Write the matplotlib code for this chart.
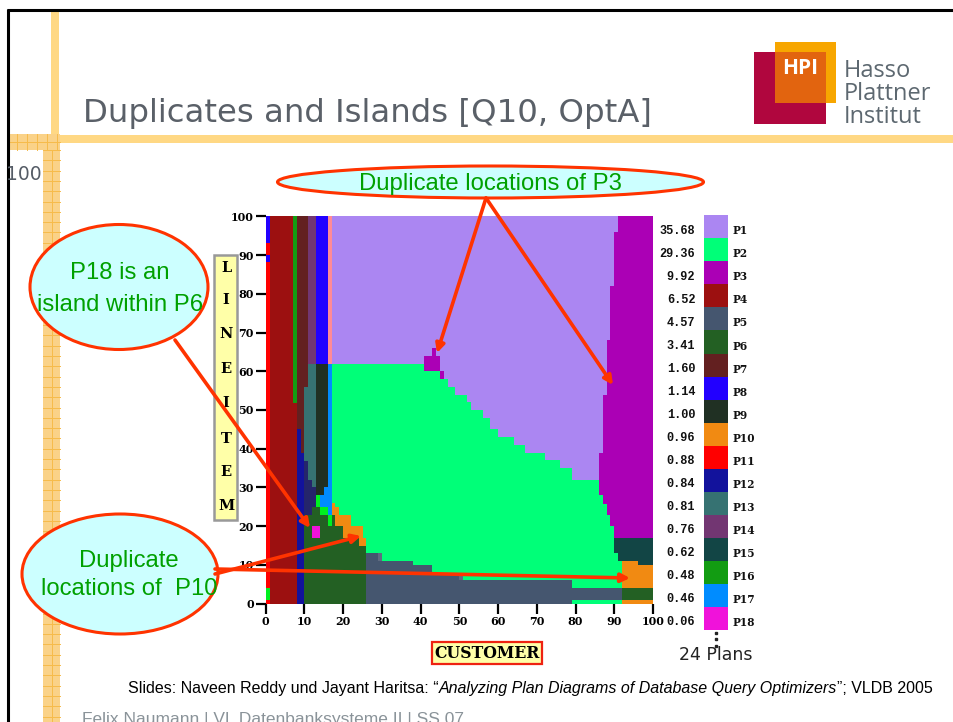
import matplotlib
matplotlib.use("Agg")
from matplotlib import pyplot as plt
from matplotlib.patches import Ellipse, Rectangle

W, H = 954, 722

# Legend data
plan_names = ["P1", "P2", "P3", "P4", "P5", "P6", "P7", "P8", "P9", "P10",
              "P11", "P12", "P13", "P14", "P15", "P16", "P17", "P18"]
plan_share = ["35.68", "29.36", "9.92", "6.52", "4.57", "3.41", "1.60", "1.14", "1.00",
              "0.96", "0.88", "0.84", "0.81", "0.76", "0.62", "0.48", "0.46", "0.06"]
plan_colors = ["#ab86f2", "#00ff78", "#ab00b5", "#9c1010", "#45566f", "#236023",
               "#632020", "#2200ff", "#203023", "#f18a12", "#ff0000", "#12129c",
               "#367272", "#723672", "#124545", "#129c12", "#008cff", "#f012da"]
# plans that are on the diagram but not in the visible legend
salmon_color = "#ff8a96"
lime_color = "#00f020"
navy_color = "#25256b"
slate_color = "#5f6b80"

# P1 / P2 border: column edges and height of P2 in each column
p2_edges = [17, 41, 45, 47, 49, 52, 53, 56, 58, 60, 64, 67, 72, 76, 79, 100]
p2_tops = [61.8, 60, 58, 56, 54, 52, 50, 48, 45, 43, 41, 39, 37, 35, 32]

# P3 on the right: row edges and left end of P3 in each row
p3_rows = [100, 96, 82, 68, 54, 39, 28, 25.8, 23, 20, 17]
p3_left = [91, 90, 89, 88, 87, 86, 87, 88, 89, 90]

# The other regions, (x0, x1, y0, y1)
p3_cells = [(41, 45, 60, 64), (43, 44, 64, 66), (45, 46, 58, 60)]
p4_cells = [(1, 7, 51.8, 100), (1, 8, 0, 51.8)]
p5_cells = [(26, 29, 0, 13), (29, 38, 0, 11), (38, 43, 0, 10), (43, 50, 0, 8),
            (50, 79, 0, 6), (79, 92, 1, 4)]
p6_cells = [(10, 12, 0, 23), (12, 14, 0, 25), (14, 16, 0, 23), (16, 17, 0, 20),
            (17, 18, 0, 23), (18, 20, 0, 20), (20, 24, 0, 17), (24, 26, 0, 15),
            (92, 100, 1, 4)]
p7_cells = [(8, 11, 55.9, 100), (8, 10, 45, 55.9), (9, 10, 39, 45)]
p8_cells = [(0, 1, 93.2, 100), (0, 1, 88.1, 90), (13, 16, 61.8, 100)]
p9_cells = [(13, 15, 28, 61.8), (15, 16, 30, 61.8)]
p10_cells = [(17, 18, 23, 26), (18, 19, 20, 25), (19, 20, 20, 23), (20, 22, 17, 23),
             (22, 24, 17, 20), (24, 25, 15, 20), (25, 26, 15, 17),
             (92, 96, 4, 11), (96, 100, 4, 10), (92, 100, 0, 1)]
p11_cells = [(0, 1, 0, 93.2), (0, 1, 90, 93.2)]
p12_cells = [(8, 10, 0, 39), (8, 9, 39, 45)]
p13_cells = [(10, 11, 36.9, 55.9), (11, 12, 32, 61.8), (12, 13, 30, 61.8)]
p14_cells = [(11, 13, 61.8, 100)]
p15_cells = [(90, 91, 13, 17), (91, 92, 11, 17), (92, 96, 11, 17), (96, 100, 10, 17)]
p16_cells = [(7, 8, 51.8, 100)]
p17_cells = [(16, 17, 23, 61.8), (15, 16, 25, 30), (14, 15, 25, 28)]
p18_cells = [(12, 14, 17, 20)]
salmon_cells = [(16, 17, 61.8, 100)]
lime_cells = [(0, 1, 1, 4), (13, 14, 25, 28), (14, 16, 23, 25), (16, 17, 20, 23)]
navy_cells = [(10, 11, 23, 36.9), (11, 12, 23, 32), (12, 13, 25, 30)]
slate_cells = [(29, 30, 11, 13), (50, 51, 6, 8)]

axis_ticks = [0, 10, 20, 30, 40, 50, 60, 70, 80, 90, 100]
side_letters = ["L", "I", "N", "E", "I", "T", "E", "M"]
side_letter_y = [268, 300, 334, 369, 403, 439, 472, 506]

fig = plt.figure(figsize=(W / 100, H / 100), dpi=100, facecolor="white")


def px_axes(x0, x1, y0, y1, **kw):
    return fig.add_axes([x0 / W, 1 - y1 / H, (x1 - x0) / W, (y1 - y0) / H], **kw)


# Plan diagram
ax = px_axes(265.7, 653, 216.3, 603.7, zorder=1)
ax.set_xlim(0, 100)
ax.set_ylim(0, 100)


def draw_cells(cells, color):
    for x0, x1, y0, y1 in cells:
        ax.bar(x0, y1 - y0, x1 - x0, bottom=y0, align="edge", color=color,
               linewidth=0, antialiased=False)


c = dict(zip(plan_names, plan_colors))
draw_cells([(17, 100, 0, 100)], c["P1"])
ax.bar(p2_edges[:-1], p2_tops, [b - a for a, b in zip(p2_edges[:-1], p2_edges[1:])],
       align="edge", color=c["P2"], linewidth=0, antialiased=False)
ax.barh(p3_rows[1:], [100 - v for v in p3_left],
        [a - b for a, b in zip(p3_rows[:-1], p3_rows[1:])],
        left=p3_left, align="edge", color=c["P3"], linewidth=0, antialiased=False)
for cells, key in [(p3_cells, "P3"), (p4_cells, "P4"), (p5_cells, "P5"), (p7_cells, "P7"),
                   (p11_cells, "P11"), (p8_cells, "P8"), (p12_cells, "P12"),
                   (p13_cells, "P13"), (p14_cells, "P14"), (p9_cells, "P9"),
                   (p15_cells, "P15"), (p16_cells, "P16"), (p17_cells, "P17")]:
    draw_cells(cells, c[key])
draw_cells(salmon_cells, salmon_color)
draw_cells(lime_cells, lime_color)
draw_cells(navy_cells, navy_color)
draw_cells(slate_cells, slate_color)
draw_cells(p6_cells, c["P6"])
draw_cells(p10_cells, c["P10"])
draw_cells(p18_cells, c["P18"])

for s in ax.spines.values():
    s.set_visible(False)
ax.set_xticks(axis_ticks)
ax.set_yticks(axis_ticks)
ax.tick_params(length=7, width=1.6, pad=1.5)
for t in ax.get_xticklabels() + ax.get_yticklabels():
    t.set_fontfamily("DejaVu Serif")
    t.set_fontweight("bold")
    t.set_fontsize(8)

# Legend column
leg = px_axes(704.3, 727.7, 215.3, 630, zorder=1)
leg.set_xlim(0, 1)
leg.set_ylim(len(plan_names), 0)
leg.axis("off")
leg.barh(range(len(plan_names)), 1, 1, align="edge", color=plan_colors, linewidth=0)
for i, (name, share) in enumerate(zip(plan_names, plan_share)):
    leg.annotate(share, (0, i + 0.5), xytext=(-9, -4), textcoords="offset pixels",
                 ha="right", va="center", family="Liberation Mono", weight="bold", fontsize=8.6,
                 annotation_clip=False, color="#111111")
    leg.annotate(name, (1, i + 0.5), xytext=(5, -4), textcoords="offset pixels",
                 ha="left", va="center", family="DejaVu Serif", weight="bold", fontsize=7.6,
                 annotation_clip=False, color="#111111")

# Slide furniture, in pixels
ov = px_axes(0, W, 0, H, zorder=2)
ov.set_xlim(0, W)
ov.set_ylim(H, 0)
ov.axis("off")
ov.patch.set_alpha(0)

band = "#ffd884"
check = "#fad288"
check_line = "#f6bb4a"
ov.add_patch(Rectangle((51, 11), 8, 132, color=band, lw=0, zorder=0.5))
ov.add_patch(Rectangle((59, 135), W - 59, 8, color=band, lw=0, zorder=0.5))
ov.add_patch(Rectangle((9, 134), 51, 16, color=check, lw=0, zorder=0.5))
ov.add_patch(Rectangle((43, 150), 17, H - 150, color=check, lw=0, zorder=0.5))
for x in [16.7, 26.7, 36.7, 46.7, 56.7]:
    ov.plot([x, x], [134, 150], color=check_line, lw=0.7, zorder=0.6)
ov.plot([9, 60], [142, 142], color=check_line, lw=0.7, zorder=0.6)
ov.plot([52, 52], [150, H], color=check_line, lw=0.7, zorder=0.6)
for k in range(58):
    y = 150 + k * 10.3
    ov.plot([43, 60], [y, y], color=check_line, lw=0.7, zorder=0.6)

ov.plot([7.5, W], [10, 10], color="black", lw=2.2, solid_capstyle="butt")
ov.plot([8, 8], [9, H], color="black", lw=2.2, solid_capstyle="butt")

ov.text(83, 122, "Duplicates and Islands [Q10, OptA]", fontsize=23.3, color="#5a6068",
        family="DejaVu Sans", va="baseline")
ov.text(6, 180, "100", fontsize=13.5, color="#555c66", family="DejaVu Sans", va="baseline")

# Logo
ov.add_patch(Rectangle((754, 52), 72, 72, color="#b0063e", lw=0))
ov.add_patch(Rectangle((775, 42), 61, 61, color="#f7a600", lw=0))
ov.add_patch(Rectangle((775, 52), 51, 51, color="#e2640f", lw=0))
ov.text(800, 68, "HPI", color="white", fontsize=15, weight="bold", family="Open Sans",
        ha="center", va="center")
for y, word in zip([77, 100, 123], ["Hasso", "Plattner", "Institut"]):
    ov.text(844, y, word, color="#5d6870", fontsize=17, weight="medium", family="Open Sans",
            va="baseline")

# Axis name boxes
ov.add_patch(Rectangle((214.5, 255), 22.5, 264.5, facecolor="#ffffa8", edgecolor="#999999", lw=1.8))
for letter, y in zip(side_letters, side_letter_y):
    ov.text(226, y, letter, fontsize=10.5, weight="bold", family="DejaVu Serif",
            ha="center", va="center", color="black")
ov.add_patch(Rectangle((432, 642), 110, 22, facecolor="#ffffa8", edgecolor="#ee2211", lw=1.6))
ov.text(487, 653, "CUSTOMER", fontsize=11.3, weight="bold", family="DejaVu Serif",
        ha="center", va="center", color="black")

# Callouts
red = "#ff3300"
callout_fill = "#ccffff"
ov.add_patch(Ellipse((490.5, 182), 426, 32, facecolor=callout_fill, edgecolor=red, lw=2.2))
ov.add_patch(Ellipse((119, 287), 178, 125, facecolor=callout_fill, edgecolor=red, lw=2.2))
ov.add_patch(Ellipse((120, 574), 196, 120, facecolor=callout_fill, edgecolor=red, lw=2.2))
green = "#00a000"
ov.text(490, 184, "Duplicate locations of P3", color=green, fontsize=17.2,
        family="Liberation Sans", ha="center", va="center")
ov.text(120, 289, "P18 is an\nisland within P6", color=green, fontsize=17.2,
        family="Liberation Sans", ha="center", va="center", linespacing=1.63)
ov.text(129, 575, "Duplicate\nlocations of  P10", color=green, fontsize=17.2,
        family="Liberation Sans", ha="center", va="center", linespacing=1.3)

arrow_tail = [(486, 198), (486, 198), (175, 340), (215, 574), (215, 569)]
arrow_head = [(437, 353), (613, 385), (310, 528), (361, 536), (630, 578)]
for tail, head in zip(arrow_tail, arrow_head):
    ov.annotate("", xy=head, xytext=tail,
                arrowprops=dict(arrowstyle="-|>", color=red, lw=2.6, mutation_scale=13,
                                shrinkA=0, shrinkB=0))

# 24 plans note
ov.plot([716, 716, 716], [633, 639, 646], ls="none", marker="s", ms=2, color="#222222")
ov.text(679, 660, "24 Plans", fontsize=12.5, color="#222222", family="DejaVu Sans", va="baseline")

# Footer
t1 = ov.text(128, 693, "Slides: Naveen Reddy und Jayant Haritsa: \u201c", fontsize=11.5,
             color="black", family="Liberation Sans", va="baseline")
t2 = ov.annotate("Analyzing Plan Diagrams of Database Query Optimizers", xy=(1, 0), xycoords=t1,
                 va="bottom", fontsize=11.5, style="italic", color="black", family="Liberation Sans")
ov.annotate("\u201d; VLDB 2005", xy=(1, 0), xycoords=t2, va="bottom", fontsize=11.5,
            color="black", family="Liberation Sans")
ov.text(82, 724, "Felix Naumann | VL Datenbanksysteme II | SS 07", fontsize=12.5, color="#8a9399",
        family="Liberation Sans", va="baseline", clip_on=False)

fig.savefig("out.png", dpi=100)
